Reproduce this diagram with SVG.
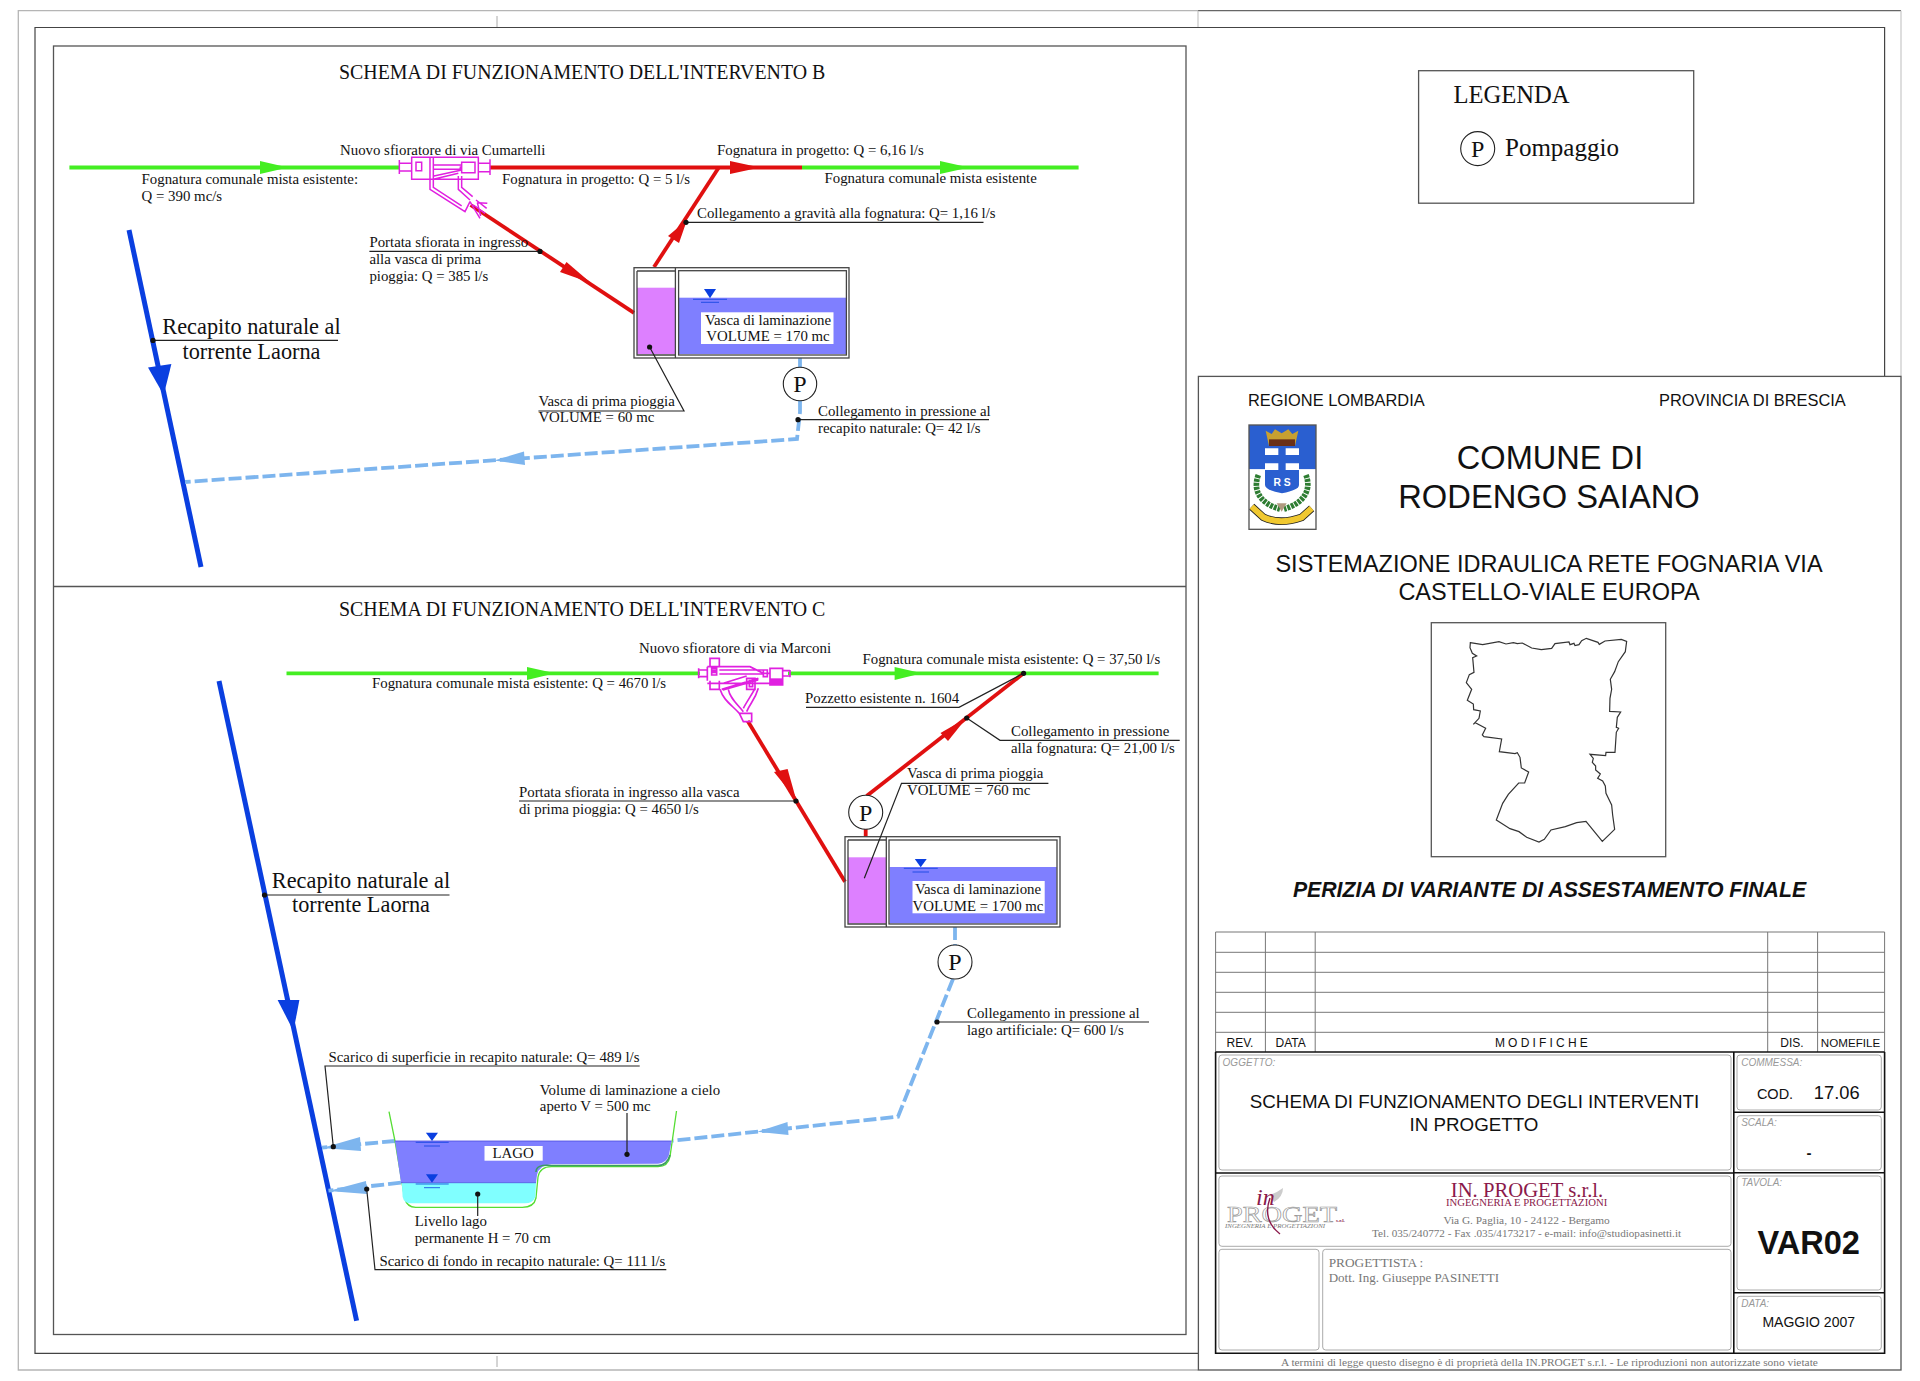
<svg xmlns="http://www.w3.org/2000/svg" width="1920" height="1381" viewBox="0 0 1920 1381">
<style>
text{font-family:"Liberation Serif","Times New Roman",serif;fill:#111}
.t{font-size:14.85px}
.h{font-size:19.9px}
.r{font-size:22.3px;text-anchor:middle}
.p{font-size:24px;text-anchor:middle}
.a{font-family:"Liberation Sans",Arial,sans-serif}
.m{text-anchor:middle}
.g{fill:#777}
.lab{font-family:"Liberation Sans",Arial,sans-serif;font-style:italic;font-size:10px;fill:#999}
.ld{fill:none;stroke:#222;stroke-width:1.2}
.dot{fill:#111}
.green{fill:none;stroke:#44ee22;stroke-width:3.8}
.red{fill:none;stroke:#e01010;stroke-width:3.8}
.blue{fill:none;stroke:#0a3fe0;stroke-width:5}
.dash{fill:none;stroke:#7db5ee;stroke-width:3.8;stroke-dasharray:13 4}
.ag{fill:#44ee22}.ar{fill:#e01010}.ab{fill:#0a3fe0}.ad{fill:#7db5ee}
.mg{fill:none;stroke:#e020e0;stroke-width:1.5}
.tank{fill:none;stroke:#444;stroke-width:1.3}
.pc{fill:#fff;stroke:#222;stroke-width:1.1}
.box{fill:none;stroke:#555;stroke-width:1.3}
.rr{fill:none;stroke:#aaa;stroke-width:1;}
.gl{stroke:#777;stroke-width:1;fill:none}
.bk{stroke:#111;stroke-width:1.6;fill:none}
.lvl{stroke:#0a3fe0;stroke-width:.8;fill:none}
</style>
<rect width="1920" height="1381" fill="#fff"/>

<g id="frame">
<path d="M1198 10.7H18.3V1370H1198" fill="none" stroke="#b5b5b5" stroke-width="1.3"/>
<path d="M1198 10.7H1901" fill="none" stroke="#666" stroke-width="1.3"/>
<path d="M1901 10.7V376" fill="none" stroke="#ccc" stroke-width="1.3"/>
<path d="M1198 10.7V27.5" fill="none" stroke="#bbb" stroke-width="1"/>
<path d="M497 16V28M497 1356V1367" fill="none" stroke="#aaa" stroke-width="1"/>
<path d="M1198 1353.3H35V27.5H1884.6V376.4" fill="none" stroke="#444" stroke-width="1.2"/>
<rect x="53.5" y="46" width="1132.5" height="1288.5" class="box"/>
<path d="M53.5 586.5H1186" class="box"/>
</g>

<g id="titles">
<text class="h" x="339" y="78.6">SCHEMA DI FUNZIONAMENTO DELL'INTERVENTO B</text>
<text class="h" x="339" y="616">SCHEMA DI FUNZIONAMENTO DELL'INTERVENTO C</text>
</g>

<g id="connectors">
<!-- Intervento B -->
<path class="green" d="M69.4 167.5H400"/>
<path class="ag" d="M260 161L288 167.5L260 174Z"/>
<path class="red" d="M490 167.5H802"/>
<path class="ar" d="M730 161L760 167.5L730 174Z"/>
<path class="green" d="M802 167.5H1078.6"/>
<path class="ag" d="M940 161L969 167.5L940 174Z"/>
<path class="red" d="M470.6 205L634 312.9"/>
<path class="ar" d="M566.5 262L591 283L560 272Z"/>
<path class="red" d="M654 267L718.8 167.5"/>
<path class="ar" d="M687 220L679 243L668 236Z"/>
<path class="blue" d="M129 230L201 567"/>
<path class="ab" d="M148 367.5L171.4 364L163.7 395Z"/>
<path class="dash" d="M800 358V374M800 401V412L797 439L185 482"/>
<path class="ad" d="M494 460.5L524 451.5L525 465Z"/>
<!-- Intervento C -->
<path class="green" d="M286.5 673.3H700M788 673.3H1158.6"/>
<path class="ag" d="M527 667L555 673.3L527 680Z"/>
<path class="ag" d="M894.6 667L922 673.3L894.6 680Z"/>
<path class="red" d="M747.7 721L845 881.7"/>
<path class="ar" d="M774 772L787.6 769L796 799Z"/>
<path class="red" d="M866.6 796L1023.6 673.3"/>
<path class="ar" d="M966.5 718L948 741L940.5 733Z"/>
<path class="red" d="M865.7 829V837"/>
<path class="blue" d="M219 681L356.6 1320.7"/>
<path class="ab" d="M277.6 1000L299.4 1000L293.5 1031Z"/>
<path class="dash" d="M955 927V945M953 979L898 1116.7L672.6 1140.7"/>
<path class="ad" d="M757.4 1131.7L787.5 1122L788.5 1135Z"/>
<path class="dash" d="M395 1141L322 1147.7"/>
<path class="ad" d="M322 1148L360 1137L361 1151Z"/>
<path class="dash" d="M401 1182.7L328.5 1190.7"/>
<path class="ad" d="M328.5 1191L366 1181L367 1194Z"/>
</g>

<g id="sfioratore-b" transform="translate(390 150) scale(.3333)">
<path class="mg" style="stroke-width:4.5" d="M28 30V72M28 40H65M28 63H65M65 22H265V88H65ZM78 37H95V62H78ZM120 22V88M130 22V88M130 45H215M130 58H215M215 37H255V68H215ZM265 40H300M265 65H300M300 28V75M130 88L205 70M132 78L215 60M120 88V118L225 185L240 155M130 88V112L215 168M205 78V118L240 150M215 78V112L248 140M240 155L270 205M262 158L292 160M262 158L272 198M250 165L285 190M258 150L290 175"/>
<path d="M210 45l6 12-8 0z" fill="#e020e0"/>
</g>
<g id="sfioratore-c" transform="translate(690 650) scale(.3333)">
<path style="stroke-width:5" class="mg" d="M26 55V85M26 60H52M26 80H52M52 50H60V25H88V50M60 92V118H88V92M52 50V92M52 50H180L220 70H240V100H52M65 55H80V75H65ZM88 60H220M88 72H220M220 60H232V80H220ZM240 55H278V105H240ZM278 62H300M278 78H300M300 60V82M95 118L205 85M100 100L170 78M170 85H195V118H170ZM178 92H188V110H178ZM90 118C100 150 125 165 148 190M115 118C120 145 140 160 160 185M205 115C195 150 180 160 170 185M195 115C185 135 170 155 160 175M148 190H185V215H160ZM148 190L160 215"/>
<rect x="240" y="85" width="38" height="20" fill="#e020e0"/>
<rect x="66" y="58" width="12" height="12" fill="#e020e0"/>
<path d="M95 118L205 85L205 92L100 122Z" fill="#e020e0"/>
</g>

<g id="tank-b">
<rect x="637" y="287.7" width="38.4" height="66.3" fill="#dd80ff"/>
<rect x="679" y="297.7" width="167" height="56.3" fill="#7f7fff"/>
<rect x="634" y="267.7" width="215" height="90.3" class="tank"/>
<path class="tank" d="M675.4 267.7V358M637 271H675.4M637 271V355H675.4"/>
<rect x="678.6" y="270.7" width="167.8" height="84.3" class="tank"/>
<path class="ab" d="M704 289H716L710 298.3Z"/>
<path class="lvl" d="M693 299.3H727M701 302.3H719"/>
<rect x="701" y="312.3" width="132.5" height="31.7" fill="#fff"/>
<text class="t m" x="768" y="324.7">Vasca di laminazione</text>
<text class="t m" x="768" y="341.3">VOLUME = 170 mc</text>
</g>
<g id="pump-b1">
<circle class="pc" cx="800" cy="384" r="16.7"/>
<text class="p" x="800" y="392">P</text>
</g>

<g id="tank-c">
<rect x="848" y="857.3" width="38.3" height="66" fill="#dd80ff"/>
<rect x="889.6" y="867" width="167.1" height="56.3" fill="#7f7fff"/>
<rect x="845" y="836.7" width="215" height="90.3" class="tank"/>
<path class="tank" d="M886.3 836.7V927M848 840H886.3M848 840V924H886.3"/>
<rect x="889" y="840" width="168" height="84" class="tank"/>
<path class="ab" d="M914.8 859H926.7L920.7 867.3Z"/>
<path class="lvl" d="M903.8 868.3H937.8M912.5 872H929"/>
<rect x="912.5" y="881" width="132.2" height="32.3" fill="#fff"/>
<text class="t m" x="978" y="894">Vasca di laminazione</text>
<text class="t m" x="978" y="910.5">VOLUME = 1700 mc</text>
</g>
<g id="pump-c1">
<circle class="pc" cx="865.7" cy="812.3" r="17"/>
<text class="p" x="865.7" y="820.5">P</text>
</g>
<g id="pump-c2">
<circle class="pc" cx="955" cy="962" r="17"/>
<text class="p" x="955" y="970">P</text>
</g>

<g id="lake">
<path d="M389 1111.7L395 1141L402 1182.7L404.6 1198Q407 1207.3 415.7 1207.3H522.3Q534 1207.3 536 1198L538 1177Q540 1166.7 551.4 1166.7H658Q668 1166.7 670 1156.7L676.5 1111" fill="none" stroke="#55dd33" stroke-width="1.3"/>
<path d="M395 1141H671.6L669 1155Q666 1163.3 658 1163.8L551.4 1164.3Q539 1165 537 1175L536 1182.7H401Z" fill="#7f7fff"/>
<path d="M401.8 1182.7H536L535.4 1196.7Q533 1203.3 524.8 1203.3H410.9Q404 1203.3 402.6 1196.7Z" fill="#80ffff"/>
<path d="M395 1141H671.6M401 1182.7H536" fill="none" stroke="#4a4ae0" stroke-width=".8"/>
<path d="M536 1172Q536 1164 551 1165.5H658Q667 1165.5 670 1155" fill="none" stroke="#3c9a66" stroke-width="1.6"/>
<path class="ab" d="M425.9 1132.7H438L432 1141Z"/>
<path class="lvl" d="M415.7 1142.3H448.7M424 1146H440"/>
<path class="ab" d="M425.9 1174.3H438L432 1182.7Z"/>
<path class="lvl" d="M415.7 1184H448.7M424 1187.7H440"/>
<rect x="484.5" y="1146" width="58.2" height="14.7" fill="#fff"/>
<text class="t m" x="513" y="1158.3">LAGO</text>
</g>

<g id="leaders">
<path class="ld" d="M369.4 251.4H540"/><circle class="dot" cx="540" cy="251.4" r="2.6"/>
<path class="ld" d="M153 340.4H338"/><circle class="dot" cx="153" cy="340.4" r="2.6"/>
<path class="ld" d="M686 222.3H983.5"/><circle class="dot" cx="686" cy="222.3" r="2.6"/>
<path class="ld" d="M798 419.7H989"/><circle class="dot" cx="798" cy="419.7" r="2.6"/>
<path class="ld" d="M538.4 411H684L649.6 347"/><circle class="dot" cx="649.6" cy="347" r="2.6"/>
<path class="ld" d="M806 707.3H959L1023.6 673.3"/><circle class="dot" cx="1023.6" cy="673.3" r="2.6"/>
<path class="ld" d="M966.7 718L1000 740.3H1179.7"/><circle class="dot" cx="966.7" cy="718" r="2.6"/>
<path class="ld" d="M519 801H796"/><circle class="dot" cx="796" cy="801" r="2.6"/>
<path class="ld" d="M1048.4 783.3H901.5L864.3 878.3"/>
<path class="ld" d="M264.5 895H449.5"/><circle class="dot" cx="264.5" cy="895" r="2.6"/>
<path class="ld" d="M937 1022H1149"/><circle class="dot" cx="937" cy="1022" r="2.6"/>
<path class="ld" d="M639.7 1066H325L333.3 1146.7"/><circle class="dot" cx="333.3" cy="1146.7" r="2.6"/>
<path class="ld" d="M666.3 1269.7H375L366.7 1189"/><circle class="dot" cx="366.7" cy="1189" r="2.6"/>
<path class="ld" d="M627 1113V1154.3"/><circle class="dot" cx="627" cy="1154.3" r="2.6"/>
<path class="ld" d="M477.7 1194V1216"/><circle class="dot" cx="477.7" cy="1194" r="2.6"/>
</g>

<g id="labels">
<text class="t" x="340" y="155">Nuovo sfioratore di via Cumartelli</text>
<text class="t" x="141.6" y="183.6">Fognatura comunale mista esistente:</text>
<text class="t" x="141.6" y="200.7">Q = 390 mc/s</text>
<text class="t" x="502" y="183.6">Fognatura in progetto: Q = 5 l/s</text>
<text class="t" x="717" y="155">Fognatura in progetto: Q = 6,16 l/s</text>
<text class="t" x="824.5" y="183.3">Fognatura comunale mista esistente</text>
<text class="t" x="697" y="218.3">Collegamento a gravità alla fognatura: Q= 1,16 l/s</text>
<text class="t" x="369.4" y="247">Portata sfiorata in ingresso</text>
<text class="t" x="369.4" y="264">alla vasca di prima</text>
<text class="t" x="369.4" y="281">pioggia: Q = 385 l/s</text>
<text class="r" x="251.5" y="333.6">Recapito naturale al</text>
<text class="r" x="251.5" y="358.6">torrente Laorna</text>
<text class="t" x="538.4" y="405.7">Vasca di prima pioggia</text>
<text class="t" x="538.4" y="421.7">VOLUME = 60 mc</text>
<text class="t" x="818" y="416">Collegamento in pressione al</text>
<text class="t" x="818" y="432.7">recapito naturale: Q= 42 l/s</text>
<text class="t" x="639" y="652.7">Nuovo sfioratore di via Marconi</text>
<text class="t" x="372" y="688">Fognatura comunale mista esistente: Q = 4670 l/s</text>
<text class="t" x="862.5" y="664">Fognatura comunale mista esistente: Q = 37,50 l/s</text>
<text class="t" x="805" y="703">Pozzetto esistente n. 1604</text>
<text class="t" x="1011" y="736">Collegamento in pressione</text>
<text class="t" x="1011" y="752.7">alla fognatura: Q= 21,00 l/s</text>
<text class="t" x="907" y="778.3">Vasca di prima pioggia</text>
<text class="t" x="907" y="795">VOLUME = 760 mc</text>
<text class="t" x="519" y="796.7">Portata sfiorata in ingresso alla vasca</text>
<text class="t" x="519" y="813.7">di prima pioggia: Q = 4650 l/s</text>
<text class="r" x="361" y="888">Recapito naturale al</text>
<text class="r" x="361" y="912">torrente Laorna</text>
<text class="t" x="967" y="1018">Collegamento in pressione al</text>
<text class="t" x="967" y="1035">lago artificiale: Q= 600 l/s</text>
<text class="t" x="328.5" y="1062">Scarico di superficie in recapito naturale: Q= 489 l/s</text>
<text class="t" x="539.8" y="1094.7">Volume di laminazione a cielo</text>
<text class="t" x="539.8" y="1111">aperto V = 500 mc</text>
<text class="t" x="414.7" y="1226">Livello lago</text>
<text class="t" x="414.7" y="1242.7">permanente H = 70 cm</text>
<text class="t" x="379.4" y="1265.7">Scarico di fondo in recapito naturale: Q= 111 l/s</text>
</g>

<g id="legend">
<rect x="1418.6" y="70.7" width="275.1" height="132.5" class="box"/>
<text x="1453.5" y="102.9" style="font-size:24.6px">LEGENDA</text>
<circle class="pc" cx="1477.7" cy="148.6" r="17"/>
<text class="p" x="1477.7" y="156.5">P</text>
<text x="1505" y="155.7" style="font-size:25px">Pompaggio</text>
</g>

<g id="titleblock">
<rect x="1198.4" y="376.4" width="702.6" height="993.6" fill="#fff" stroke="#555" stroke-width="1.3"/>
<text class="a" x="1248" y="406" style="font-size:16.4px">REGIONE LOMBARDIA</text>
<text class="a" x="1659" y="406" style="font-size:16.4px">PROVINCIA DI BRESCIA</text>
<text class="a m" x="1550" y="468.6" style="font-size:32.6px">COMUNE DI</text>
<text class="a m" x="1549" y="508" style="font-size:32.7px">RODENGO SAIANO</text>
<text class="a m" x="1549" y="572" style="font-size:23.5px">SISTEMAZIONE IDRAULICA RETE FOGNARIA VIA</text>
<text class="a m" x="1549" y="600" style="font-size:23.5px">CASTELLO-VIALE EUROPA</text>
<text class="a m" x="1549.5" y="896.6" style="font-size:21.25px;font-weight:bold;font-style:italic">PERIZIA DI VARIANTE DI ASSESTAMENTO FINALE</text>
</g>

<g id="stemma" transform="translate(1230 410) scale(.3333)">
<rect x="57" y="45" width="201" height="133" fill="#2a5fd0"/>
<rect x="57" y="178" width="201" height="180" fill="#fff"/>
<path d="M105 115H207V225Q207 240 156 250Q105 240 105 225Z" fill="#2a5fd0"/>
<path d="M105 115H145V135H105ZM167 115H207V135H167ZM105 160H145V180H105ZM167 160H207V180H167Z" fill="#fff"/>
<text x="156" y="228" text-anchor="middle" style="font-family:'Liberation Sans',sans-serif;font-size:31px;font-weight:bold;fill:#fff">R S</text>
<path d="M107 62L125 72L135 58L155 70L175 58L187 72L205 62L195 108H117Z" fill="#c8a030"/>
<path d="M117 88H195V108H117Z" fill="#6a3018"/>
<path d="M85 195C66 245 95 282 150 297M228 195C247 245 215 282 162 297" fill="none" stroke="#2e7d32" stroke-width="17" stroke-dasharray="9 3"/>
<path d="M65 290L100 322Q150 345 215 322L245 295" fill="none" stroke="#222" stroke-width="23"/>
<path d="M65 290L100 322Q150 345 215 322L245 295" fill="none" stroke="#f0c830" stroke-width="18"/>
<path d="M140 280L170 280L155 305Z" fill="#b09a80"/>
<rect x="57" y="45" width="201" height="313" fill="none" stroke="#555" stroke-width="4"/>
</g>

<g id="mappa">
<rect x="1431.3" y="622.7" width="234.4" height="234" class="box"/>
<path transform="translate(1420 610) scale(.3333)" fill="none" stroke="#333" stroke-width="3.6" d="M151 98L188 104L237 95L258 102L280 98L292 101L307 99L335 114L364 119L395 115L405 101L447 96L450 104L462 100L465 107L477 104L485 92L499 85L534 97L538 103L555 93L604 88L620 94L616 125L595 155L584 185L571 208L575 238L570 265L569 304L602 306L592 322L589 352L596 355L589 367L585 427L558 427L557 437L510 433L520 445L517 457L527 468L527 480L541 492L533 505L548 513L556 528L558 550L575 585L578 615L584 658L547 694L498 634L470 638L436 650L393 660L373 688L357 696L320 682L297 665L270 656L229 630L248 580L265 553L296 519L314 519L326 486L304 474L300 442L292 428L285 431L238 425L245 387L192 380L187 375L197 355L166 338L160 343L177 325L181 303L161 299L160 282L142 271L155 238L139 218L148 194L162 187L158 143L170 138L157 130L150 113Z"/>
</g>

<g id="revisioni">
<path class="gl" d="M1215.6 932H1884.6M1215.6 952.3H1884.6M1215.6 972.3H1884.6M1215.6 992.3H1884.6M1215.6 1012.3H1884.6M1215.6 1032.3H1884.6"/>
<path class="gl" d="M1265.4 932V1052M1315.2 932V1052M1767.7 932V1052M1817.6 932V1052M1215.6 932V1052M1884.6 932V1052"/>
<path class="bk" d="M1215.6 1052H1884.6"/>
<text class="a m" x="1240" y="1047.3" style="font-size:12px">REV.</text>
<text class="a m" x="1290.6" y="1047.3" style="font-size:12px">DATA</text>
<text class="a m" x="1543" y="1047.3" style="font-size:12px;letter-spacing:3.2px">MODIFICHE</text>
<text class="a m" x="1792" y="1047.3" style="font-size:12px">DIS.</text>
<text class="a m" x="1850.5" y="1047.3" style="font-size:11.6px">NOMEFILE</text>
</g>

<g id="cartiglio">
<path class="bk" d="M1215.6 1052V1353.3H1884.6V1052M1733.8 1052V1353.3M1733.8 1112.3H1884.6M1733.8 1172.7H1884.6M1733.8 1292.7H1884.6M1215.6 1173H1733.8"/>
<rect class="rr" x="1218.9" y="1055" width="512.1" height="115" rx="3"/>
<rect class="rr" x="1218.9" y="1176" width="512.1" height="70.3" rx="3"/>
<rect class="rr" x="1218.9" y="1249.3" width="100.1" height="100.7" rx="3"/>
<rect class="rr" x="1322.7" y="1249.3" width="408.3" height="100.7" rx="3"/>
<rect class="rr" x="1737" y="1055" width="144.3" height="55" rx="3"/>
<rect class="rr" x="1737" y="1115.7" width="144.3" height="54.3" rx="3"/>
<rect class="rr" x="1737" y="1176" width="144.3" height="114" rx="3"/>
<rect class="rr" x="1737" y="1296.3" width="144.3" height="53.7" rx="3"/>
<text class="lab" x="1222.6" y="1066">OGGETTO:</text>
<text class="lab" x="1741.2" y="1066">COMMESSA:</text>
<text class="lab" x="1741.2" y="1126">SCALA:</text>
<text class="lab" x="1741.2" y="1186.3">TAVOLA:</text>
<text class="lab" x="1741.2" y="1306.7">DATA:</text>
<text class="a m" x="1474.5" y="1108.3" style="font-size:18.75px">SCHEMA DI FUNZIONAMENTO DEGLI INTERVENTI</text>
<text class="a m" x="1474" y="1130.7" style="font-size:18.75px">IN PROGETTO</text>
<text class="a m" x="1775" y="1099.3" style="font-size:14.5px">COD.</text>
<text class="a" x="1813.8" y="1099.3" style="font-size:18.3px">17.06</text>
<text class="a m" x="1809" y="1158" style="font-size:15px;font-weight:bold">-</text>
<text class="a m" x="1808.7" y="1254.3" style="font-size:32.6px;font-weight:bold">VAR02</text>
<text class="a m" x="1808.7" y="1326.7" style="font-size:14px">MAGGIO 2007</text>
<text class="m" x="1527" y="1196.7" style="font-size:20.7px;fill:#8b1a4b">IN. PROGET s.r.l.</text>
<text class="m" x="1526.6" y="1206" style="font-size:10.7px;fill:#8b1a4b">INGEGNERIA E PROGETTAZIONI</text>
<text class="m g" x="1526.6" y="1224" style="font-size:11.35px">Via G. Paglia, 10 - 24122  - Bergamo</text>
<text class="m g" x="1526.6" y="1237.3" style="font-size:11.15px">Tel. 035/240772 - Fax .035/4173217  - e-mail: info@studiopasinetti.it</text>
<text class="g" x="1328.7" y="1267.3" style="font-size:13.3px">PROGETTISTA :</text>
<text class="g" x="1328.7" y="1282" style="font-size:13px">Dott. Ing. Giuseppe PASINETTI</text>
<text class="m g" x="1549.4" y="1365.7" style="font-size:11.4px">A termini di legge questo disegno è di proprietà della IN.PROGET s.r.l. - Le riproduzioni non autorizzate sono vietate</text>
</g>

<g id="logo-inproget">
<path d="M1270 1195Q1278 1192 1283 1188Q1283 1197 1274 1202Z" fill="#ccc"/>
<text x="1256" y="1205" style="font-size:24px;font-style:italic;fill:#8b1a4b">in</text>
<text transform="translate(1227 1222) scale(1.18 1)" style="font-size:24px;fill:#fff;stroke:#999;stroke-width:.7">PROGET</text>
<text x="1336" y="1222" style="font-size:5px;font-weight:bold;fill:#8b1a4b">s.r.l.</text>
<text x="1225" y="1228.3" style="font-size:6.9px;font-style:italic;fill:#777">INGEGNERIA E PROGETTAZIONI</text>
<path d="M1270 1198Q1262 1220 1280 1234" fill="none" stroke="#8b1a4b" stroke-width="1.4"/>
</g>
</svg>
